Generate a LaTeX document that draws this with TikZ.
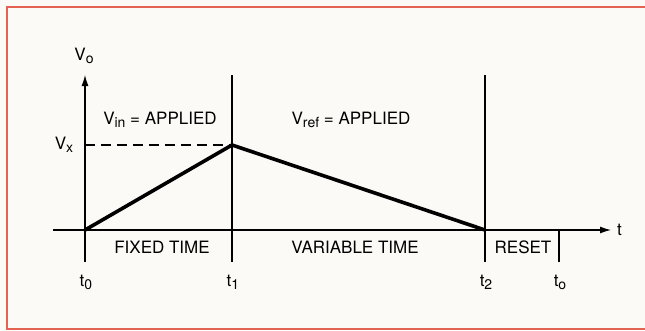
\documentclass[tikz,border=0pt]{standalone}
\usepackage{fontspec}
\setmainfont{TeX Gyre Heros}
\usetikzlibrary{arrows.meta,positioning}
\definecolor{framered}{RGB}{228,98,84}
\definecolor{paper}{RGB}{252,250,246}
\newcommand{\lowsub}[1]{\raisebox{-0.35ex}{\fontsize{14}{14}\selectfont #1}}
\tikzstyle{axis} = [line width=1.2pt, -{Latex[length=11pt,width=7pt]}]
\tikzstyle{marker} = [line width=1.1pt]
\tikzstyle{ramp} = [line width=3.6pt, line join=round, line cap=round]
\tikzstyle{lbl} = [inner sep=0pt, font=\fontsize{17}{20}\selectfont]

\begin{document}
\begin{tikzpicture}[x=1pt,y=-1pt]
    \useasboundingbox (0,0) rectangle (645,330);
    \fill [paper] (0,0) rectangle (645,330);
    \draw [framered, line width=2.5pt] (645,7) -- (7,7) -- (7,329) -- (645,329);

    % axes
    \coordinate (origin) at (85,230);
    \coordinate (ytop) at (85,75);
    \coordinate (ybot) at (85,262);
    \coordinate (xleft) at (53,230);
    \coordinate (xright) at (611,230);
    \draw [marker] (ybot) -- (origin);
    \draw [axis] (origin) -- (ytop);
    \draw [axis] (xleft) -- (xright);
    \node [lbl] (vo) at (84,56) {V\lowsub{o}};
    \node [lbl, right=6pt of xright] (t) {t};

    % time markers
    \coordinate (t1top) at (232,75);
    \coordinate (t1bot) at (232,262);
    \coordinate (t2top) at (485,75);
    \coordinate (t2bot) at (485,262);
    \coordinate (t3top) at (559,230);
    \coordinate (t3bot) at (559,262);
    \draw [marker] (t1top) -- (t1bot);
    \draw [marker] (t2top) -- (t2bot);
    \draw [marker] (t3top) -- (t3bot);

    \node [lbl] (lt0) at (86,282) {t\lowsub{0}};
    \node [lbl] (lt1) at (233,282) {t\lowsub{1}};
    \node [lbl] (lt2) at (486,282) {t\lowsub{2}};
    \node [lbl] (lt3) at (560,282) {t\lowsub{o}};

    % integrator output
    \coordinate (peak) at (232,145);
    \coordinate (zero) at (485,230);
    \coordinate (vxl) at (85,145);
    \draw [marker, dash pattern=on 10pt off 6pt] (vxl) -- (peak);
    \node [lbl] (vx) at (64,145) {V\lowsub{x}};
    \draw [ramp] (origin) -- (peak) -- (zero);

    % phase labels
    \node [lbl] (vin) at (160,120) {V\lowsub{in} = APPLIED};
    \node [lbl] (vref) at (351,120) {V\lowsub{ref} = APPLIED};
    \node [lbl] (fixed) at (162,247) {FIXED TIME};
    \node [lbl] (var) at (355,247) {VARIABLE TIME};
    \node [lbl] (reset) at (523,247) {RESET};
\end{tikzpicture}
\end{document}
